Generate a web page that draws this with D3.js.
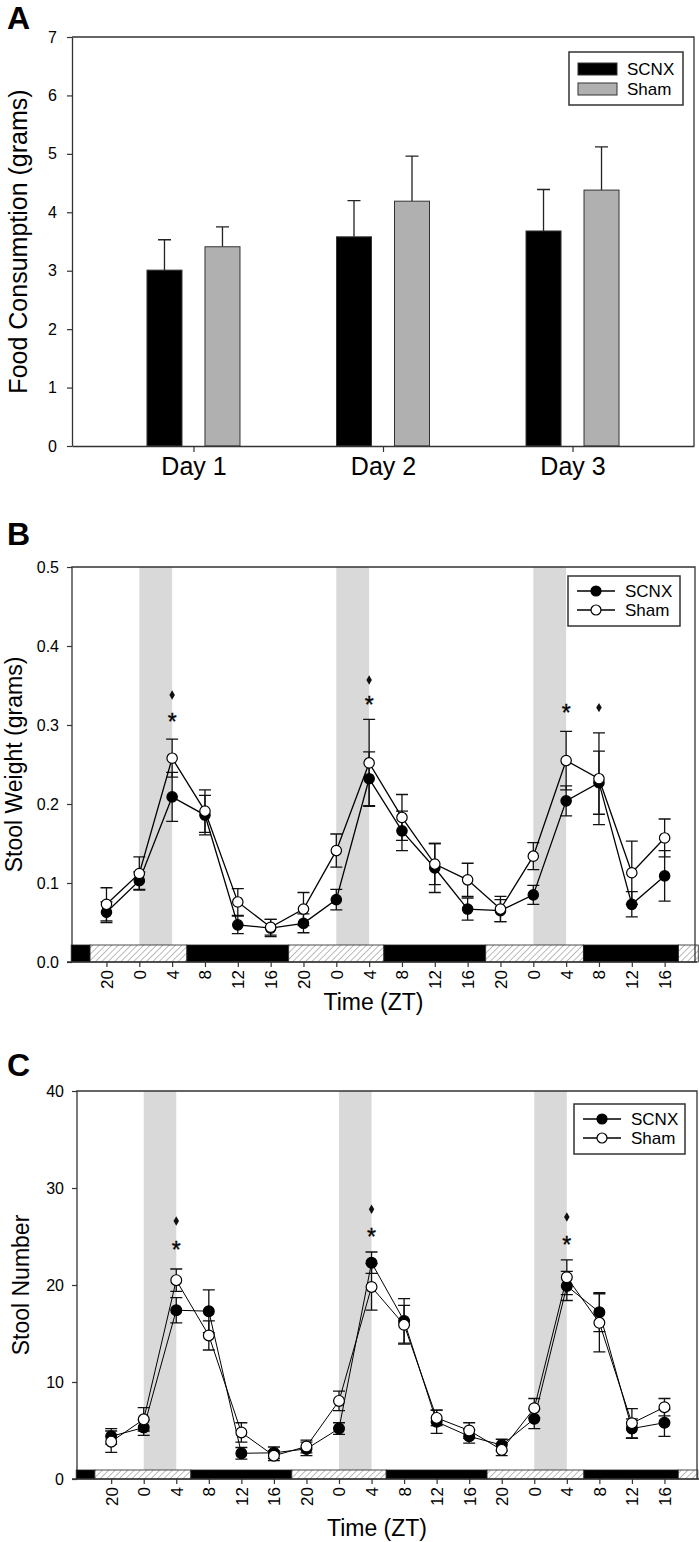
<!DOCTYPE html>
<html><head><meta charset="utf-8">
<script src="https://cdn.jsdelivr.net/npm/d3@7"></script>
<style>
body{margin:0;background:#fff}
svg{display:block}
text{font-family:"Liberation Sans",Arial,sans-serif;fill:#000}
</style>
</head><body>
<svg id="c" width="699" height="1542"></svg>
<script>
// ---------- DATA ----------
const days = ["Day 1", "Day 2", "Day 3"];
const foodSCNX = [3.01, 3.58, 3.68];
const foodSCNXErr = [0.52, 0.62, 0.71];
const foodSham = [3.41, 4.19, 4.38];
const foodShamErr = [0.34, 0.77, 0.74];
const foodTicks = [0, 1, 2, 3, 4, 5, 6, 7];

const ztHours = [-4, 0, 4, 8, 12, 16, 20, 24, 28, 32, 36, 40, 44, 48, 52, 56, 60, 64];
const ztLabels = ["20", "0", "4", "8", "12", "16", "20", "0", "4", "8", "12", "16", "20", "0", "4", "8", "12", "16"];

const weightSCNX    = [0.063, 0.103, 0.209, 0.186, 0.047, 0.043, 0.049, 0.079, 0.232, 0.166, 0.119, 0.067, 0.065, 0.085, 0.204, 0.227, 0.073, 0.109];
const weightSCNXErr = [0.013, 0.011, 0.031, 0.025, 0.011, 0.011, 0.012, 0.013, 0.034, 0.025, 0.031, 0.014, 0.014, 0.012, 0.019, 0.040, 0.016, 0.032];
const weightSham    = [0.073, 0.112, 0.258, 0.191, 0.076, 0.044, 0.067, 0.141, 0.252, 0.183, 0.124, 0.104, 0.067, 0.134, 0.255, 0.232, 0.113, 0.157];
const weightShamErr = [0.021, 0.021, 0.024, 0.027, 0.017, 0.010, 0.021, 0.021, 0.055, 0.029, 0.026, 0.021, 0.016, 0.017, 0.037, 0.058, 0.040, 0.024];
const weightTicks = [0, 0.1, 0.2, 0.3, 0.4, 0.5];
const weightStars = [{t: 4, v: 0.310}, {t: 28, v: 0.332}, {t: 52, v: 0.321}];
const weightDiamonds = [{t: 4, v: 0.338}, {t: 28, v: 0.357}, {t: 56, v: 0.322}];

const numberSCNX    = [4.4, 5.3, 17.4, 17.3, 2.65, 2.7, 3.1, 5.2, 22.3, 16.3, 5.9, 4.4, 3.5, 6.2, 19.9, 17.2, 5.2, 5.8];
const numberSCNXErr = [0.8, 0.8, 1.3, 2.2, 0.6, 0.6, 0.7, 0.6, 1.1, 2.3, 1.2, 0.7, 0.6, 1.0, 1.5, 2.0, 1.0, 1.4];
const numberSham    = [3.85, 6.15, 20.5, 14.8, 4.8, 2.4, 3.35, 8.05, 19.8, 15.9, 6.3, 5.0, 3.0, 7.3, 20.8, 16.1, 5.75, 7.4];
const numberShamErr = [1.1, 1.2, 1.15, 1.5, 1.0, 0.5, 0.65, 1.0, 2.4, 2.0, 0.8, 0.8, 0.6, 1.0, 1.8, 3.0, 1.5, 0.9];
const numberTicks = [0, 10, 20, 30, 40];
const numberStars = [{t: 4, v: 24.1}, {t: 28, v: 25.5}, {t: 52, v: 24.6}];
const numberDiamonds = [{t: 4, v: 26.6}, {t: 28, v: 27.8}, {t: 52, v: 27.0}];

// light/dark phases (ZT hours, continuous), dark = 1
const phaseStart = [-8.3, -6, 5.8, 18.2, 29.8, 42.2, 54.1, 65.7];
const phaseEnd   = [-6, 5.8, 18.2, 29.8, 42.2, 54.1, 65.7, 68.1];
const phaseDark  = [1, 0, 1, 0, 1, 0, 1, 0];
const shadeStart = [0, 24, 48];
const shadeEnd   = [4, 28, 52];

// ---------- DRAW ----------
const svg = d3.select("#c");
const defs = svg.append("defs");
const pat = defs.append("pattern").attr("id", "hatch").attr("patternUnits", "userSpaceOnUse")
  .attr("width", 4.5).attr("height", 4.5).attr("patternTransform", "rotate(45)");
pat.append("rect").attr("width", 4.5).attr("height", 4.5).attr("fill", "#fff");
pat.append("line").attr("x1", 0).attr("y1", 0).attr("x2", 0).attr("y2", 4.5).attr("stroke", "#777").attr("stroke-width", 1);

function styleAxis(g, fs) {
  g.select(".domain").attr("stroke", "#333").attr("stroke-width", 1.3);
  g.selectAll(".tick line").attr("stroke", "#333").attr("stroke-width", 1.2);
  g.selectAll(".tick text").attr("font-size", fs).attr("fill", "#000").attr("font-family", '"Liberation Sans", Arial, sans-serif');
}

// ===== Panel A =====
(function () {
  const L = 72, R = 694, T = 37, B = 446;
  const x = d3.scalePoint().domain(days).range([L, R]).padding(0.641);
  const y = d3.scaleLinear().domain([0, 7]).range([B, T]);
  const g = svg.append("g");
  svg.append("text").attr("x", 7).attr("y", 29).attr("font-size", 32).attr("font-weight", "bold").text("A");

  const series = [
    {name: "SCNX", vals: foodSCNX, err: foodSCNXErr, fill: "#000", off: -29},
    {name: "Sham", vals: foodSham, err: foodShamErr, fill: "#b0b0b0", off: 29}
  ];
  const bw = 35;
  series.forEach(s => {
    g.selectAll(null).data(days).join("path")
      .attr("d", (d, i) => {
        const cx = x(d) + s.off, y0 = y(s.vals[i]), y1 = y(s.vals[i] + s.err[i]);
        return `M${cx},${y0}V${y1}M${cx - 6.5},${y1}H${cx + 6.5}`;
      })
      .attr("stroke", "#222").attr("stroke-width", 1.3).attr("fill", "none");
    g.selectAll(null).data(days).join("rect")
      .attr("x", d => x(d) + s.off - bw / 2).attr("width", bw)
      .attr("y", (d, i) => y(s.vals[i])).attr("height", (d, i) => y(0) - y(s.vals[i]))
      .attr("fill", s.fill).attr("stroke", "#333").attr("stroke-width", 1);
  });
  // frame
  g.append("path").attr("d", `M${L},${T}H${R}V${B}`).attr("fill", "none").attr("stroke", "#333").attr("stroke-width", 1.3);
  const ya = g.append("g").attr("transform", `translate(${L},0)`)
    .call(d3.axisLeft(y).tickValues(foodTicks).tickFormat(d3.format("d")).tickSize(5).tickPadding(10).tickSizeOuter(0));
  styleAxis(ya, 16);
  const xa = g.append("g").attr("transform", `translate(0,${B})`)
    .call(d3.axisBottom(x).tickSize(6).tickPadding(5).tickSizeOuter(0));
  styleAxis(xa, 25);
  g.append("text").attr("transform", `translate(27,${(T + B) / 2}) rotate(-90)`)
    .attr("text-anchor", "middle").attr("font-size", 25).text("Food Consumption (grams)");

  // legend
  const lg = g.append("g");
  lg.append("rect").attr("x", 569).attr("y", 52).attr("width", 114).attr("height", 53)
    .attr("fill", "#fff").attr("stroke", "#333").attr("stroke-width", 1.5);
  series.forEach((s, i) => {
    const cy = 69 + i * 20;
    lg.append("rect").attr("x", 578).attr("y", cy - 6).attr("width", 39).attr("height", 12)
      .attr("fill", s.fill).attr("stroke", "#333").attr("stroke-width", 1);
    lg.append("text").attr("x", 627).attr("y", cy + 6).attr("font-size", 17).text(s.name);
  });
})();

// ===== Line panels =====
function linePanel(cfg) {
  const {L, R, T, B, xDomain, yDomain, yTicks, yFmt, barH, scnx, scnxErr, sham, shamErr,
         stars, diamonds, letter, letterY, ylabel, ylabelX, legend, r, lw, timeY} = cfg;
  const x = d3.scaleLinear().domain(xDomain).range([L, R]);
  const y = d3.scaleLinear().domain(yDomain).range([B, T]);
  const g = svg.append("g");
  svg.append("text").attr("x", 7).attr("y", letterY).attr("font-size", 32).attr("font-weight", "bold").text(letter);
  const barTop = B - barH;

  // shaded columns
  g.selectAll(null).data(shadeStart).join("rect")
    .attr("x", (d) => x(d)).attr("width", (d, i) => x(shadeEnd[i]) - x(d))
    .attr("y", T).attr("height", barTop - T).attr("fill", "#d9d9d9");

  // light/dark bar
  g.selectAll(null).data(phaseStart).join("rect")
    .attr("x", d => x(d)).attr("width", (d, i) => x(phaseEnd[i]) - x(d))
    .attr("y", barTop).attr("height", barH)
    .attr("fill", (d, i) => phaseDark[i] ? "#000" : "url(#hatch)")
    .attr("stroke", "#222").attr("stroke-width", 0.8);

  // frame
  g.append("path").attr("d", `M${L},${barTop}V${T}H${R}V${B}`).attr("fill", "none").attr("stroke", "#333").attr("stroke-width", 1.3);

  const ya = g.append("g").attr("transform", `translate(${L},0)`)
    .call(d3.axisLeft(y).tickValues(yTicks).tickFormat(yFmt).tickSize(5).tickPadding(8).tickSizeOuter(0));
  styleAxis(ya, 16);
  ya.select(".domain").remove();
  const xa = g.append("g").attr("transform", `translate(0,${B})`)
    .call(d3.axisBottom(x).tickValues(ztHours).tickFormat((d, i) => ztLabels[i]).tickSize(5).tickSizeOuter(0));
  styleAxis(xa, 17);
  xa.select(".domain").attr("d", `M${L - 5},0H${R + 2}`);
  xa.selectAll(".tick text").attr("transform", "rotate(-90)").attr("text-anchor", "end")
    .attr("x", -8).attr("y", 0).attr("dy", "0.35em");

  g.append("text").attr("x", (L + R) / 2 - 10).attr("y", timeY).attr("text-anchor", "middle")
    .attr("font-size", 23).text("Time (ZT)");
  g.append("text").attr("transform", `translate(${ylabelX},${(T + B) / 2}) rotate(-90)`)
    .attr("text-anchor", "middle").attr("font-size", 23).text(ylabel);

  const series = [
    {name: "SCNX", vals: scnx, err: scnxErr, fill: "#000"},
    {name: "Sham", vals: sham, err: shamErr, fill: "#fff"}
  ];
  // error bars
  series.forEach(s => {
    g.selectAll(null).data(ztHours).join("path")
      .attr("d", (t, i) => {
        const cx = x(t), y0 = y(s.vals[i] - s.err[i]), y1 = y(s.vals[i] + s.err[i]);
        return `M${cx},${y0}V${y1}M${cx - 6},${y1}H${cx + 6}M${cx - 6},${y0}H${cx + 6}`;
      })
      .attr("stroke", "#111").attr("stroke-width", 1.3).attr("fill", "none");
  });
  series.forEach(s => {
    const ln = d3.line().x((d) => x(d[0])).y((d) => y(d[1]));
    g.append("path").datum(ztHours.map((t, i) => [t, s.vals[i]]))
      .attr("d", ln).attr("fill", "none").attr("stroke", "#000").attr("stroke-width", lw);
  });
  series.forEach(s => {
    g.selectAll(null).data(ztHours).join("circle")
      .attr("cx", t => x(t)).attr("cy", (t, i) => y(s.vals[i])).attr("r", r)
      .attr("fill", s.fill).attr("stroke", "#000").attr("stroke-width", 1.2);
  });
  // significance marks
  g.selectAll(null).data(stars).join("text")
    .attr("x", d => x(d.t)).attr("y", d => y(d.v) + 13).attr("text-anchor", "middle")
    .attr("font-size", 23).attr("fill", "#111").attr("stroke", "#111").attr("stroke-width", 0.4).text("*");
  g.selectAll(null).data(diamonds).join("path")
    .attr("transform", d => `translate(${x(d.t)},${y(d.v)})`)
    .attr("d", d3.symbol(d3.symbolDiamond, 26)).attr("fill", "#111");

  // legend
  const lg = g.append("g");
  lg.append("rect").attr("x", legend.x).attr("y", legend.y).attr("width", legend.w).attr("height", legend.h)
    .attr("fill", "#fff").attr("stroke", "#333").attr("stroke-width", 1.5);
  series.forEach((s, i) => {
    const cy = legend.y + legend.row0 + i * legend.dy;
    lg.append("line").attr("x1", legend.x + 9).attr("x2", legend.x + 47).attr("y1", cy).attr("y2", cy)
      .attr("stroke", "#000").attr("stroke-width", 1.3);
    lg.append("circle").attr("cx", legend.x + 28).attr("cy", cy).attr("r", 5)
      .attr("fill", s.fill).attr("stroke", "#000").attr("stroke-width", 1.2);
    lg.append("text").attr("x", legend.x + 57).attr("y", cy + 6).attr("font-size", 17).text(s.name);
  });
}

linePanel({
  L: 72, R: 695, T: 567, B: 962, xDomain: [-8.2, 67.7], yDomain: [0, 0.5], yTicks: weightTicks,
  yFmt: d3.format(".1f"), barH: 17, scnx: weightSCNX, scnxErr: weightSCNXErr, sham: weightSham, shamErr: weightShamErr,
  stars: weightStars, diamonds: weightDiamonds, letter: "B", letterY: 545, ylabel: "Stool Weight (grams)", ylabelX: 22,
  legend: {x: 568, y: 576, w: 112, h: 50, row0: 15, dy: 19}, r: 5.2, lw: 1.3, timeY: 1010
});
linePanel({
  L: 77, R: 697, T: 1091, B: 1479, xDomain: [-8.2, 68], yDomain: [0, 40], yTicks: numberTicks,
  yFmt: d3.format("d"), barH: 9, scnx: numberSCNX, scnxErr: numberSCNXErr, sham: numberSham, shamErr: numberShamErr,
  stars: numberStars, diamonds: numberDiamonds, letter: "C", letterY: 1076, ylabel: "Stool Number", ylabelX: 29,
  legend: {x: 574, y: 1104, w: 111, h: 50, row0: 15, dy: 19}, r: 5.4, lw: 1, timeY: 1536
});
</script>
</body></html>
